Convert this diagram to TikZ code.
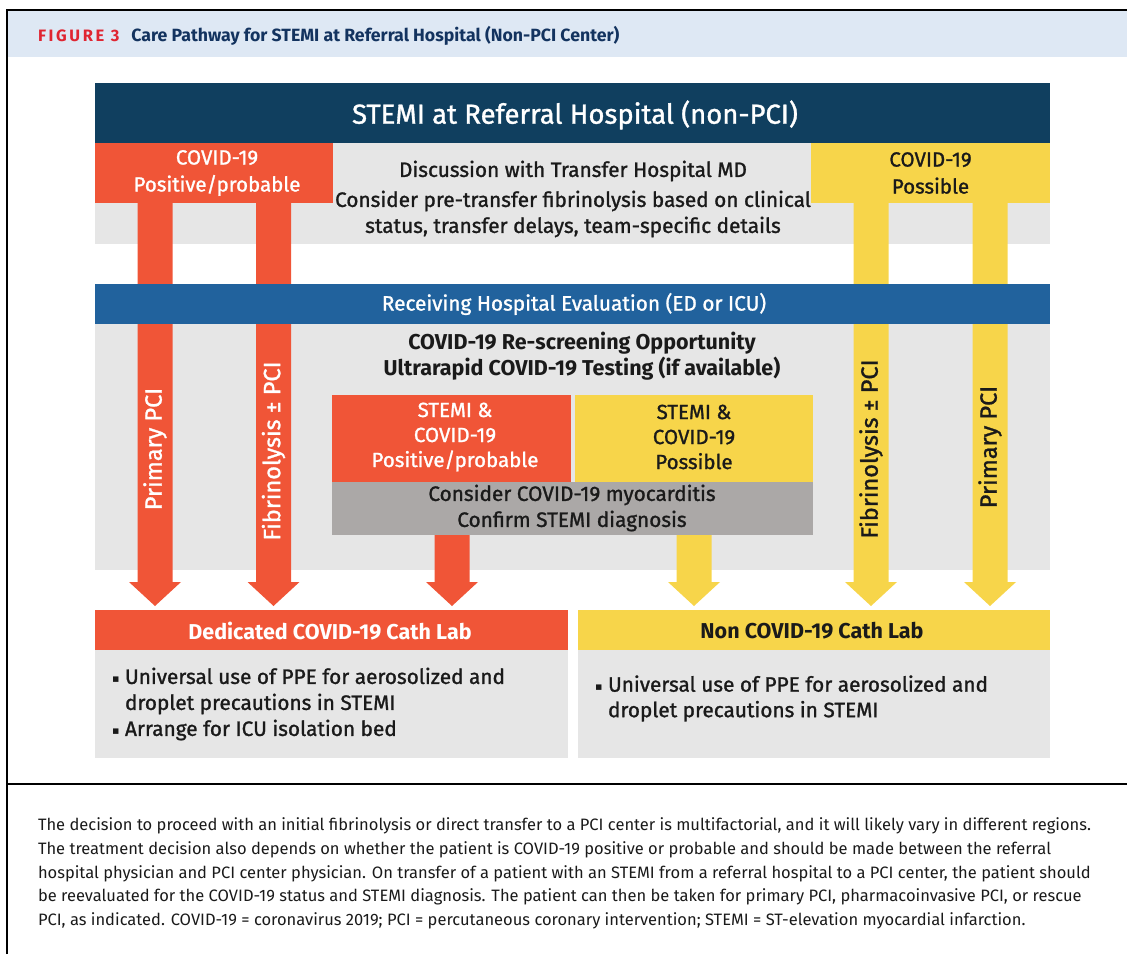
\documentclass[tikz,border=0pt]{standalone}
\usepackage{fontspec}
\setmainfont{Fira Sans}
\newfontfamily\medfont[FakeBold=1.2]{Fira Sans}
\newfontfamily\dejavu{DejaVu Sans}
\usetikzlibrary{calc}
\definecolor{navy}{HTML}{103F5F}
\definecolor{redc}{HTML}{F05537}
\definecolor{yelc}{HTML}{F7D54A}
\definecolor{lgray}{HTML}{E6E6E6}
\definecolor{blueband}{HTML}{21629D}
\definecolor{mgray}{HTML}{ABA8A7}
\definecolor{titleband}{HTML}{DEE8F4}
\definecolor{titlenavy}{HTML}{13335F}
\definecolor{figred}{HTML}{E02531}
\definecolor{ink}{HTML}{1A1A1A}
\newcommand\fs[2]{\fontsize{#1}{#2}\selectfont}
\newcommand\bul{\makebox[13pt][l]{\raisebox{1.5pt}{\dejavu\fs{11}{11}▪}}}
\newcommand\bulind{\hspace*{13pt}}
\begin{document}
\begin{tikzpicture}[x=1pt,y=-1pt,
  rect/.style={rectangle,inner sep=0pt,outer sep=0pt,draw=none},
  txt/.style={inner sep=0pt,outer sep=0pt,align=center},
  fat/.style={to path={($(\tikztostart)+(-17.5,0)$) -- ($(\tikztostart)+(17.5,0)$)
     -- ($(\tikztotarget)+(17.5,-24)$) -- ($(\tikztotarget)+(26,-24)$)
     -- (\tikztotarget) -- ($(\tikztotarget)+(-26,-24)$)
     -- ($(\tikztotarget)+(-17.5,-24)$) -- cycle}},
  medtext/.style={txt,font=\medfont\fs{20.8}{26}},
  boldtext/.style={txt,font=\bfseries\fs{21.5}{26}},
  vlabel/.style={txt,rotate=90,font=\medfont\fs{23.5}{26}}
]
\useasboundingbox (0,0) rectangle (1127,954);
% frame and title band
\fill[titleband] (7,11) rectangle (1127,57);
\draw[line width=2pt] (6.5,954) -- (6.5,10) -- (1127,10);
\draw[line width=1.5pt] (6.5,784) -- (1127,784);
\node[txt,anchor=west] (figtitle) at (38,36) {{\color{figred}\bfseries\fs{16.5}{18}\addfontfeatures{LetterSpace=16}FIGURE 3}\hspace{12pt}{\color{titlenavy}\bfseries\fs{17.7}{20}Care Pathway for STEMI at Referral Hospital (Non-PCI Center)}};

% column positions
\coordinate (c1) at (155,0);
\coordinate (c2) at (273.5,0);
\coordinate (c3) at (871,0);
\coordinate (c4) at (990,0);
\coordinate (c5) at (452,0);
\coordinate (c6) at (694,0);

% bands
\node[rect,fill=navy,minimum width=955pt,minimum height=60pt] (head) at (572.5,113) {};
\node[txt,white,font=\medfont\fs{27.5}{30}] (headtxt) at (575,115) {STEMI at Referral Hospital (non-PCI)};
\node[rect,fill=lgray,minimum width=955pt,minimum height=101pt] (row2) at (572.5,193.5) {};
\node[rect,fill=lgray,minimum width=955pt,minimum height=246pt] (row4) at (572.5,447) {};

% bottom boxes
\node[rect,fill=redc,minimum width=473pt,minimum height=40pt] (labred) at (331.5,630) {};
\node[boldtext,white] (labredtxt) at (330,631) {Dedicated COVID-19 Cath Lab};
\node[rect,fill=yelc,minimum width=472pt,minimum height=40pt] (labyel) at (814,630) {};
\node[boldtext,ink] (labyeltxt) at (812,631) {Non COVID-19 Cath Lab};
\node[rect,fill=lgray,minimum width=473pt,minimum height=108pt] (bodyred) at (331.5,704) {};
\node[rect,fill=lgray,minimum width=472pt,minimum height=108pt] (bodyyel) at (814,704) {};
\node[txt,align=left,anchor=west,ink,font=\medfont\fs{20.8}{26}] (bodyredtxt) at (112,704) {\bul Universal use of PPE for aerosolized and\\\bulind droplet precautions in STEMI\\\bul Arrange for ICU isolation bed};
\node[txt,align=left,anchor=west,ink,font=\medfont\fs{20.8}{25.5}] (bodyyeltxt) at (595,698.5) {\bul Universal use of PPE for aerosolized and\\\bulind droplet precautions in STEMI};

% long columns
\fill[redc] (row2.north -| c1) to[fat] ($(labred.north -| c1)+(0,-4)$);
\fill[redc] (row2.north -| c2) to[fat] ($(labred.north -| c2)+(0,-4)$);
\fill[yelc] (row2.north -| c3) to[fat] ($(labyel.north -| c3)+(0,-4)$);
\fill[yelc] (row2.north -| c4) to[fat] ($(labyel.north -| c4)+(0,-4)$);

% top status boxes
\node[rect,fill=redc,minimum width=238pt,minimum height=60pt] (posred) at (214,173) {};
\node[medtext,white,font=\medfont\fs{20.5}{27}] (posredtxt) at (217,173) {COVID-19\\Positive/probable};
\node[rect,fill=yelc,minimum width=239pt,minimum height=60pt] (posyel) at (930.5,173) {};
\node[medtext,ink,font=\medfont\fs{20.5}{27}] (posyeltxt) at (930.5,173) {COVID-19\\Possible};
\node[medtext,ink] (disc1) at (573,171) {Discussion with Transfer Hospital MD};
\node[medtext,ink] (disc2) at (573,214) {Consider pre-transfer fibrinolysis based on clinical\\status, transfer delays, team-specific details};

% receiving band
\node[rect,fill=blueband,minimum width=955pt,minimum height=40pt] (recv) at (572.5,304) {};
\node[medtext,white] (recvtxt) at (574,304) {Receiving Hospital Evaluation (ED or ICU)};

% rescreen
\node[boldtext,ink] (rescreen) at (582,356) {COVID-19 Re-screening Opportunity\\Ultrarapid COVID-19 Testing (if available)};

% inner boxes
\node[rect,fill=redc,minimum width=239pt,minimum height=87pt] (stemired) at (451.5,438.5) {};
\node[medtext,white,font=\medfont\fs{20.5}{25}] (stemiredtxt) at (455,437) {STEMI \&\\COVID-19\\Positive/probable};
\node[rect,fill=yelc,minimum width=238pt,minimum height=87pt] (stemiyel) at (694,438.5) {};
\node[medtext,ink,font=\medfont\fs{20.5}{25}] (stemiyeltxt) at (694,437) {STEMI \&\\COVID-19\\Possible};
\node[rect,fill=mgray,minimum width=481pt,minimum height=53pt] (consider) at (572.5,508.5) {};
\node[medtext,ink] (considertxt) at (572,508) {Consider COVID-19 myocarditis\\Confirm STEMI diagnosis};

% short arrows
\fill[redc] (consider.south -| c5) to[fat] ($(labred.north -| c5)+(0,-4)$);
\fill[yelc] (consider.south -| c6) to[fat] ($(labyel.north -| c6)+(0,-4)$);

% column labels
\node[vlabel,white] (l1) at (155,449) {Primary PCI};
\node[vlabel,white] (l2) at (273.5,451) {Fibrinolysis ± PCI};
\node[vlabel,ink] (l3) at (871,449) {Fibrinolysis ± PCI};
\node[vlabel,ink] (l4) at (990,447) {Primary PCI};

% caption
\node[txt,align=left,anchor=west,ink,font=\fs{16.5}{23.8}] (caption) at (38,873.5) {The decision to proceed with an initial fibrinolysis or direct transfer to a PCI center is multifactorial, and it will likely vary in different regions.\\
The treatment decision also depends on whether the patient is COVID-19 positive or probable and should be made between the referral\\
hospital physician and PCI center physician. On transfer of a patient with an STEMI from a referral hospital to a PCI center, the patient should\\
be reevaluated for the COVID-19 status and STEMI diagnosis. The patient can then be taken for primary PCI, pharmacoinvasive PCI, or rescue\\
PCI, as indicated. COVID-19 = coronavirus 2019; PCI = percutaneous coronary intervention; STEMI = ST-elevation myocardial infarction.};
\end{tikzpicture}
\end{document}
